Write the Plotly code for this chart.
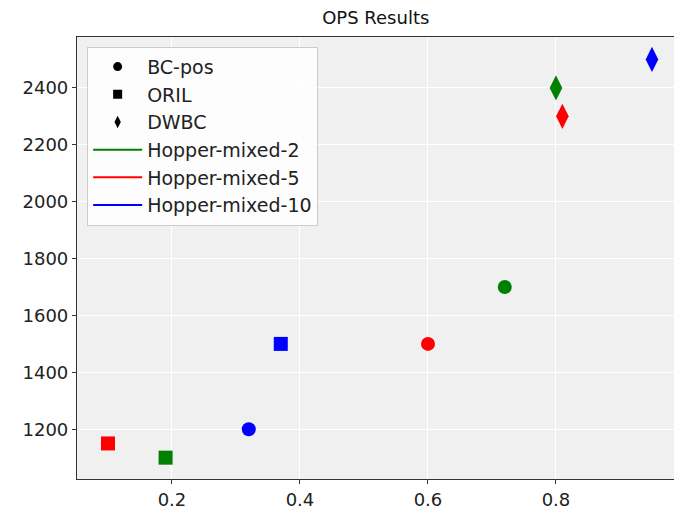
import plotly.graph_objects as go

envs = ["Hopper-mixed-2", "Hopper-mixed-5", "Hopper-mixed-10"]
env_colors = ["#008000", "#ff0000", "#0000ff"]
methods = ["BC-pos", "ORIL", "DWBC"]
method_symbols = ["circle", "square", "diamond-tall"]
method_sizes = [14, 14, 18]

# x (score) and y (OPS) per method, ordered by envs
bcpos_x = [0.72, 0.60, 0.32]
bcpos_y = [1700, 1500, 1200]
oril_x = [0.19, 0.10, 0.37]
oril_y = [1100, 1150, 1500]
dwbc_x = [0.80, 0.81, 0.95]
dwbc_y = [2400, 2300, 2500]

xs = [bcpos_x, oril_x, dwbc_x]
ys = [bcpos_y, oril_y, dwbc_y]

fig = go.Figure()
for m, sym, sz, mx, my in zip(methods, method_symbols, method_sizes, xs, ys):
    fig.add_trace(go.Scatter(
        x=mx, y=my, mode="markers", showlegend=False,
        marker=dict(symbol=sym, size=sz, color=env_colors, line=dict(width=0)),
    ))

# legend entries
for m, sym in zip(methods, method_symbols):
    fig.add_trace(go.Scatter(
        x=[None], y=[None], mode="markers", name=m,
        marker=dict(symbol=sym, size=9, color="black"),
    ))
for e, c in zip(envs, env_colors):
    fig.add_trace(go.Scatter(
        x=[None], y=[None], mode="lines", name=e,
        line=dict(color=c, width=2),
    ))

fig.update_layout(
    width=674, height=510,
    margin=dict(l=77, r=0, t=37, b=31),
    paper_bgcolor="white",
    plot_bgcolor="#f0f0f0",
    font=dict(family="DejaVu Sans", size=18, color="#222222"),
    title=dict(text="OPS Results", x=0.5575, xanchor="center", y=0.965, yanchor="middle",
               font=dict(size=18, color="#111111")),
    legend=dict(
        x=0.017, y=0.978, xanchor="left", yanchor="top",
        bgcolor="rgba(255,255,255,0.85)", bordercolor="#cccccc", borderwidth=1,
        font=dict(size=19, color="#222222"), itemwidth=49, tracegroupgap=0,
    ),
    showlegend=True,
)
fig.update_xaxes(
    range=[0.0516, 0.9844], tickvals=[0.2, 0.4, 0.6, 0.8],
    ticktext=["0.2", "0.4", "0.6", "0.8"], automargin=False,
    showgrid=True, gridcolor="white", gridwidth=1, zeroline=False,
    showline=True, linecolor="#333333", linewidth=1.2, mirror=True,
    ticks="outside", ticklen=4, tickcolor="#333333",
)
fig.update_yaxes(
    range=[1025, 2579], tickvals=[1200, 1400, 1600, 1800, 2000, 2200, 2400],
    automargin=False,
    showgrid=True, gridcolor="white", gridwidth=1, zeroline=False,
    showline=True, linecolor="#333333", linewidth=1.2,
    ticks="outside", ticklen=4, tickcolor="#333333",
)

fig.write_html(
    "out.html",
    config={"displayModeBar": False},
    post_script="document.body.style.margin='0';document.body.style.overflow='hidden';",
)
